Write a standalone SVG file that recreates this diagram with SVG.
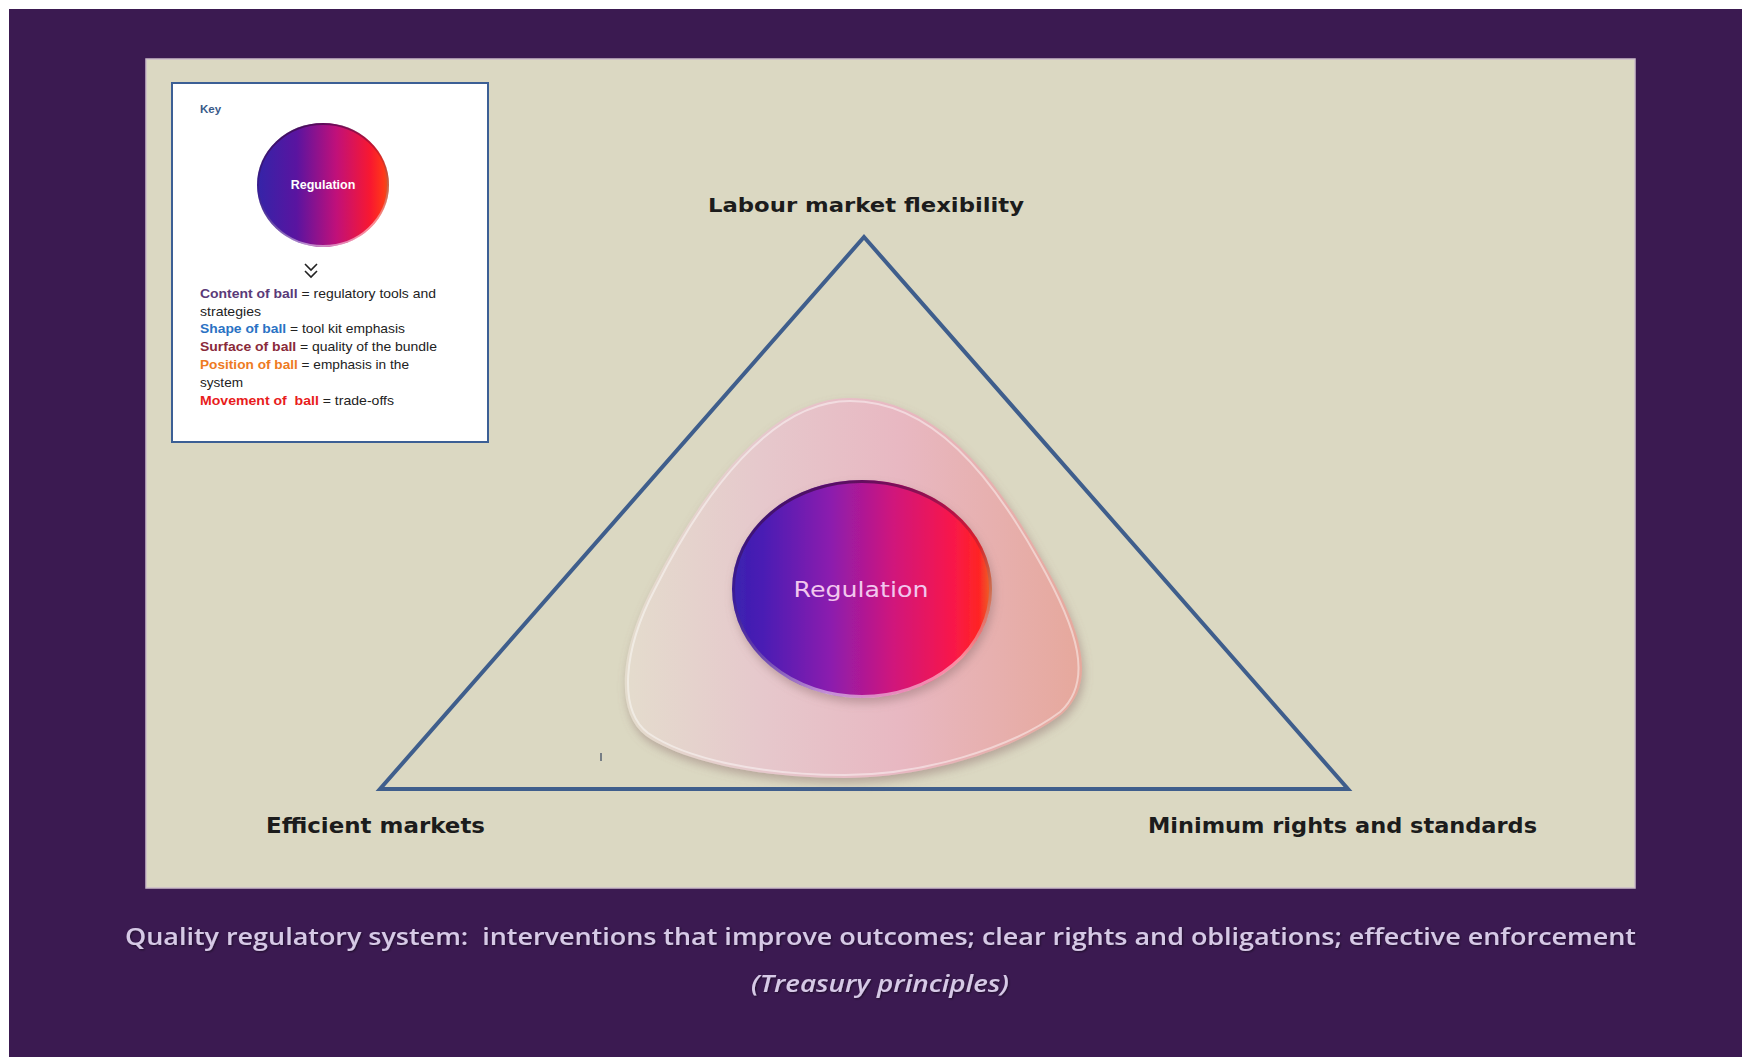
<svg xmlns="http://www.w3.org/2000/svg" width="1742" height="1057" viewBox="0 0 1742 1057">
  <defs>
    <style>
      .lbl { font-family: "DejaVu Sans", "Liberation Sans", sans-serif; font-weight: bold; fill: #1c1c1c; }
      .cap { font-family: "Open Sans", "Liberation Sans", sans-serif; font-weight: 600; fill: #d6c9e6; white-space: pre; }
      .key { font-family: "Liberation Sans", "Open Sans", sans-serif; font-size: 13.5px; fill: #222; white-space: pre; }
      .kb { font-weight: bold; }
    </style>
    <linearGradient id="ballGrad" x1="0" y1="0" x2="1" y2="0">
      <stop offset="0" stop-color="#3a22b0"/>
      <stop offset="0.12" stop-color="#4a1cb4"/>
      <stop offset="0.38" stop-color="#8c1cae"/>
      <stop offset="0.62" stop-color="#d0167c"/>
      <stop offset="0.85" stop-color="#f8184a"/>
      <stop offset="0.95" stop-color="#ff2424"/>
      <stop offset="1" stop-color="#e86a2a"/>
    </linearGradient>
    <linearGradient id="keyBallGrad" x1="0" y1="0" x2="1" y2="0">
      <stop offset="0" stop-color="#3424a8"/>
      <stop offset="0.3" stop-color="#5a14a0"/>
      <stop offset="0.6" stop-color="#c0107a"/>
      <stop offset="0.86" stop-color="#f81830"/>
      <stop offset="0.96" stop-color="#ff3818"/>
      <stop offset="1" stop-color="#d85a20"/>
    </linearGradient>
    <linearGradient id="blobGrad" x1="0" y1="0" x2="1" y2="0">
      <stop offset="0" stop-color="#e4dccd"/>
      <stop offset="0.3" stop-color="#e6c8cc"/>
      <stop offset="0.6" stop-color="#e8b8c2"/>
      <stop offset="1" stop-color="#e6a89c"/>
    </linearGradient>
    <linearGradient id="bevel" x1="0" y1="0" x2="0.3" y2="1">
      <stop offset="0" stop-color="#3a0a40" stop-opacity="0.8"/>
      <stop offset="0.5" stop-color="#3a0a40" stop-opacity="0.2"/>
      <stop offset="1" stop-color="#ffffff" stop-opacity="0.5"/>
    </linearGradient>
    <filter id="soft" x="-20%" y="-20%" width="140%" height="140%">
      <feGaussianBlur in="SourceAlpha" stdDeviation="5"/>
      <feOffset dx="2" dy="5" result="b"/>
      <feFlood flood-color="#8a6a6a" flood-opacity="0.45"/>
      <feComposite in2="b" operator="in"/>
      <feMerge><feMergeNode/><feMergeNode in="SourceGraphic"/></feMerge>
    </filter>
    <filter id="txtShadow" x="-5%" y="-30%" width="110%" height="160%">
      <feGaussianBlur in="SourceAlpha" stdDeviation="1"/>
      <feOffset dx="1" dy="1" result="b"/>
      <feFlood flood-color="#000" flood-opacity="0.5"/>
      <feComposite in2="b" operator="in"/>
      <feMerge><feMergeNode/><feMergeNode in="SourceGraphic"/></feMerge>
    </filter>
  </defs>

  <rect x="0" y="0" width="1742" height="1057" fill="#ffffff"/>
  <rect x="9" y="9" width="1733" height="1048" fill="#3b1a51"/>

  <g id="panel">
    <rect x="146" y="59" width="1489" height="829" fill="#dbd8c2" stroke="#cbbcc9" stroke-width="1.5"/>
  </g>

  <g id="connectors">
    <polygon points="864,237 1348,789 380,789" fill="none" stroke="#3f5e8c" stroke-width="4" stroke-linejoin="miter"/>
  </g>

  <g id="bundle">
    <path d="M 850 398 C 935 398 995 475 1042 560 C 1082 630 1098 682 1062 714 C 1012 752 922 778 845 778 C 760 778 684 762 646 736 C 614 712 620 650 652 588 C 702 490 770 398 850 398 Z" fill="url(#blobGrad)" filter="url(#soft)"/>
    <path d="M 850 401 C 933 401 992 477 1039 561 C 1078 630 1094 681 1060 712 C 1010 749 921 775 845 775 C 761 775 686 759 648 733 C 618 710 623 650 655 589 C 704 492 772 401 850 401 Z" fill="none" stroke="#ffffff" stroke-opacity="0.45" stroke-width="2"/>
  </g>

  <g id="regulation">
    <ellipse cx="862" cy="589" rx="130" ry="109" fill="url(#ballGrad)" filter="url(#soft)"/>
    <ellipse cx="862" cy="589" rx="128.5" ry="107.5" fill="none" stroke="url(#bevel)" stroke-width="3"/>
    <text x="861" y="597" text-anchor="middle" font-family="DejaVu Sans, Liberation Sans, sans-serif" font-size="22" fill="#f2c6ee" textLength="135" lengthAdjust="spacingAndGlyphs">Regulation</text>
  </g>

  <g id="label-top">
    <text class="lbl" x="708" y="212" font-size="20" textLength="316" lengthAdjust="spacingAndGlyphs">Labour market flexibility</text>
  </g>
  <g id="label-left">
    <text class="lbl" x="266" y="833" font-size="21" textLength="219" lengthAdjust="spacingAndGlyphs">Efficient markets</text>
  </g>
  <g id="label-right">
    <text class="lbl" x="1148" y="833" font-size="21" textLength="389" lengthAdjust="spacingAndGlyphs">Minimum rights and standards</text>
  </g>

  <line x1="601" y1="753" x2="601" y2="761" stroke="#556070" stroke-width="1.5"/>

  <g id="key">
    <rect x="172" y="83" width="316" height="359" fill="#ffffff" stroke="#3c5f95" stroke-width="2"/>
    <text x="200" y="113" font-family="Liberation Sans, sans-serif" font-size="11.5" font-weight="bold" fill="#3a5a8a">Key</text>
    <ellipse cx="323" cy="185" rx="66" ry="62" fill="url(#keyBallGrad)"/>
    <ellipse cx="323" cy="185" rx="65" ry="61" fill="none" stroke="url(#bevel)" stroke-width="2"/>
    <text x="323" y="189" text-anchor="middle" font-family="Liberation Sans, sans-serif" font-size="12.5" font-weight="bold" fill="#ffffff">Regulation</text>
    <path d="M305 264 L311 270 L317 264 M305 271 L311 277 L317 271" fill="none" stroke="#222" stroke-width="1.6"/>
    <text class="key" x="200" y="298" textLength="236" lengthAdjust="spacingAndGlyphs"><tspan class="kb" fill="#5a3a78">Content of ball</tspan> = regulatory tools and</text>
    <text class="key" x="200" y="316" textLength="61" lengthAdjust="spacingAndGlyphs">strategies</text>
    <text class="key" x="200" y="333" textLength="205" lengthAdjust="spacingAndGlyphs"><tspan class="kb" fill="#2a72c4">Shape of ball</tspan> = tool kit emphasis</text>
    <text class="key" x="200" y="351" textLength="237" lengthAdjust="spacingAndGlyphs"><tspan class="kb" fill="#8a2a3a">Surface of ball</tspan> = quality of the bundle</text>
    <text class="key" x="200" y="369" textLength="209" lengthAdjust="spacingAndGlyphs"><tspan class="kb" fill="#ee7a22">Position of ball</tspan> = emphasis in the</text>
    <text class="key" x="200" y="387" textLength="43" lengthAdjust="spacingAndGlyphs">system</text>
    <text class="key" x="200" y="405" textLength="194" lengthAdjust="spacingAndGlyphs"><tspan class="kb" fill="#e81c1c">Movement of  ball</tspan> = trade-offs</text>
  </g>

  <g id="caption" filter="url(#txtShadow)">
    <text class="cap" x="125" y="945" font-size="23" textLength="1511" lengthAdjust="spacingAndGlyphs">Quality regulatory system:  interventions that improve outcomes; clear rights and obligations; effective enforcement</text>
    <text class="cap" x="751" y="992" font-size="23" font-style="italic" textLength="258" lengthAdjust="spacingAndGlyphs">(Treasury principles)</text>
  </g>
</svg>
